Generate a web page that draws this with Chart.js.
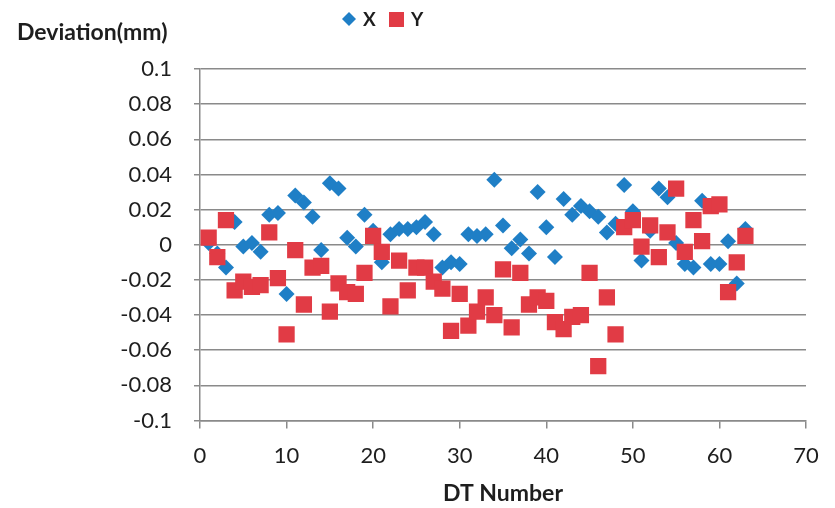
<!DOCTYPE html>
<html><head><meta charset="utf-8">
<script src="https://cdn.jsdelivr.net/npm/chart.js@4.4.0/dist/chart.umd.min.js"></script>
<style>html,body{margin:0;padding:0;background:#fff;}canvas{display:block;}</style>
</head><body>
<canvas id="c" width="835" height="508"></canvas>
<script>
const dtNumbers = [1,2,3,4,5,6,7,8,9,10,11,12,13,14,15,16,17,18,19,20,21,22,23,24,25,26,27,28,29,30,31,32,33,34,35,36,37,38,39,40,41,42,43,44,45,46,47,48,49,50,51,52,53,54,55,56,57,58,59,60,61,62,63];
const xDeviation = [0.001,-0.005,-0.013,0.013,-0.001,0.001,-0.004,0.017,0.018,-0.028,0.028,0.024,0.016,-0.003,0.035,0.032,0.004,-0.001,0.017,0.008,-0.010,0.006,0.009,0.009,0.010,0.013,0.006,-0.013,-0.010,-0.011,0.006,0.005,0.006,0.037,0.011,-0.002,0.003,-0.005,0.030,0.010,-0.007,0.026,0.017,0.022,0.019,0.016,0.007,0.012,0.034,0.019,-0.009,0.008,0.032,0.027,0.001,-0.011,-0.013,0.025,-0.011,-0.011,0.002,-0.022,0.009];
const yDeviation = [0.004,-0.007,0.014,-0.026,-0.021,-0.024,-0.023,0.007,-0.019,-0.051,-0.003,-0.034,-0.013,-0.012,-0.038,-0.022,-0.027,-0.028,-0.016,0.005,-0.004,-0.035,-0.009,-0.026,-0.013,-0.013,-0.021,-0.025,-0.049,-0.028,-0.046,-0.038,-0.030,-0.040,-0.014,-0.047,-0.016,-0.034,-0.030,-0.032,-0.044,-0.048,-0.041,-0.040,-0.016,-0.069,-0.030,-0.051,0.010,0.014,-0.001,0.011,-0.007,0.007,0.032,-0.004,0.014,0.002,0.022,0.023,-0.027,-0.010,0.005];
const yTickValues = [-0.1,-0.08,-0.06,-0.04,-0.02,0,0.02,0.04,0.06,0.08,0.1];
const xTickValues = [0,10,20,30,40,50,60,70];
const seriesNames = ['X','Y'];
const yAxisTitle = 'Deviation(mm)';
const xAxisTitle = 'DT Number';

const BLUE = '#1f7fc6';
const RED = '#e13b45';
const GRID = '#8a8a8a';
const TEXT = '#1e1e1e';
const FONT = 'Lato, "Open Sans", sans-serif';

const pts = (ys) => dtNumbers.map((n, i) => ({x: n, y: ys[i]}));

const titleLegendPlugin = {
  id: 'titleLegend',
  afterDraw(chart) {
    const ctx = chart.ctx;
    ctx.save();
    ctx.fillStyle = TEXT;
    ctx.font = 'bold 23px ' + FONT;
    ctx.textBaseline = 'alphabetic';
    ctx.textAlign = 'left';
    ctx.fillText(yAxisTitle, 17, 40);
    // legend
    ctx.font = 'bold 19px ' + FONT;
    ctx.textBaseline = 'middle';
    const cy = 19;
    ctx.fillStyle = BLUE;
    ctx.beginPath();
    ctx.moveTo(349, cy - 7); ctx.lineTo(356, cy); ctx.lineTo(349, cy + 7); ctx.lineTo(342, cy); ctx.closePath();
    ctx.fill();
    ctx.fillStyle = TEXT;
    ctx.fillText(seriesNames[0], 363, cy + 1);
    ctx.fillStyle = RED;
    ctx.fillRect(389, cy - 7, 15, 15);
    ctx.fillStyle = TEXT;
    ctx.fillText(seriesNames[1], 411, cy + 1);
    ctx.restore();
  }
};

new Chart(document.getElementById('c'), {
  type: 'scatter',
  data: {
    datasets: [
      {label: seriesNames[0], data: pts(xDeviation), pointStyle: 'rectRot', pointRadius: 8, pointHoverRadius: 8,
       backgroundColor: BLUE, borderColor: BLUE, borderWidth: 0, order: 1},
      {label: seriesNames[1], data: pts(yDeviation), pointStyle: 'rect', pointRadius: 11.5, pointHoverRadius: 11.5,
       backgroundColor: RED, borderColor: RED, borderWidth: 0, order: 0}
    ]
  },
  options: {
    responsive: false,
    animation: false,
    events: [],
    layout: {padding: {top: 69, right: 29, left: 0, bottom: 0}},
    plugins: {legend: {display: false}, tooltip: {enabled: false}, title: {display: false}},
    scales: {
      x: {
        type: 'linear', min: 0, max: 70,
        afterBuildTicks: s => { s.ticks = xTickValues.map(v => ({value: v})); },
        afterFit: s => { s.height = 87.5; },
        grid: {drawOnChartArea: false, drawTicks: true, tickLength: 8, color: GRID, lineWidth: 1.5},
        border: {display: true, color: GRID, width: 1.5},
        ticks: {color: TEXT, font: {family: FONT, size: 22}, padding: 14, maxRotation: 0},
        title: {display: true, text: xAxisTitle, color: TEXT, font: {family: FONT, size: 23, weight: 'bold'}, padding: {top: 4, bottom: 1}}
      },
      y: {
        type: 'linear', min: -0.1, max: 0.1,
        afterBuildTicks: s => { s.ticks = yTickValues.map(v => ({value: v})); },
        afterFit: s => { s.width = 200; },
        grid: {drawOnChartArea: true, drawTicks: true, tickLength: 6, color: GRID, lineWidth: 1.5},
        border: {display: true, color: GRID, width: 1.5},
        ticks: {color: TEXT, font: {family: FONT, size: 22}, padding: 22,
                callback: v => String(Number(Number(v).toFixed(2)))}
      }
    }
  },
  plugins: [titleLegendPlugin]
});
</script>
</body></html>
